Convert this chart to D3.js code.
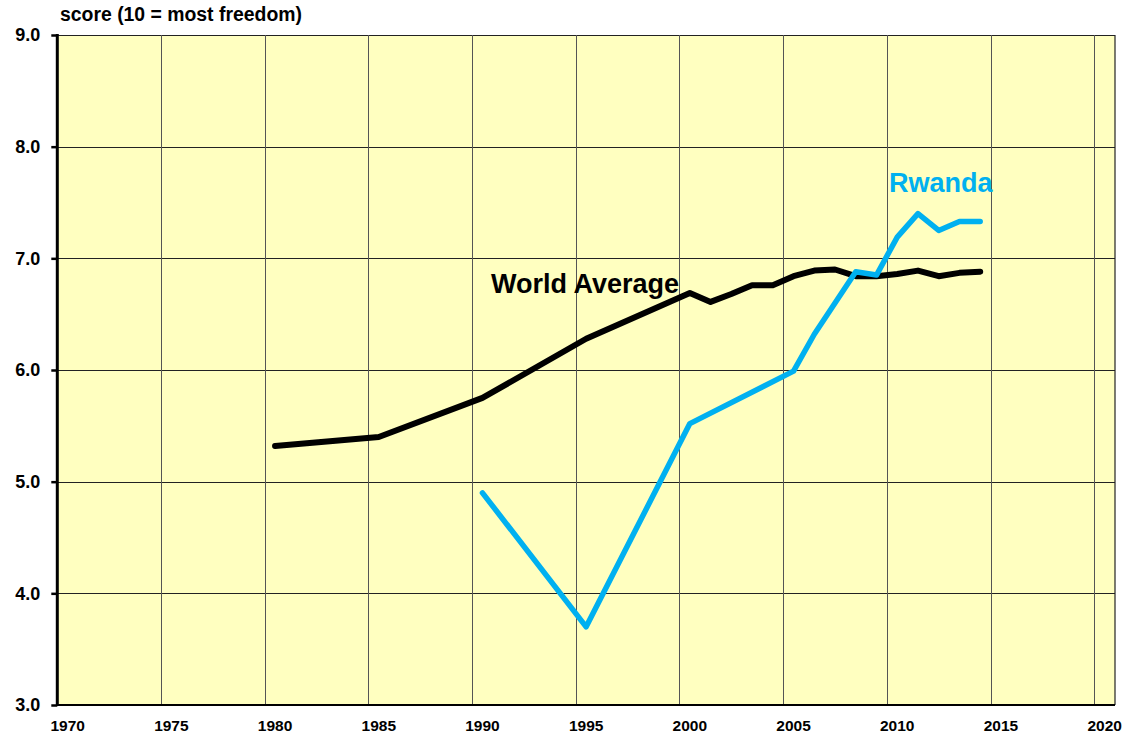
<!DOCTYPE html>
<html>
<head>
<meta charset="utf-8">
<script src="https://cdn.jsdelivr.net/npm/d3@7"></script>
<style>
  html, body { margin: 0; padding: 0; background: #ffffff; }
  svg { display: block; font-family: Arial, "Liberation Sans", sans-serif; }
</style>
</head>
<body>
<svg id="chart" width="1130" height="733"></svg>
<script>
// ---- data ----
const categoryYears = d3.range(1970, 2021);          // category axis 1970..2020
const xTickYears = [1970, 1975, 1980, 1985, 1990, 1995, 2000, 2005, 2010, 2015, 2020];
const yTicks = [3, 4, 5, 6, 7, 8, 9];

const worldYears  = [1980, 1985, 1990, 1995, 2000, 2001, 2002, 2003, 2004, 2005, 2006, 2007, 2008, 2009, 2010, 2011, 2012, 2013, 2014];
const worldValues = [5.32, 5.40, 5.75, 6.28, 6.69, 6.61, 6.68, 6.76, 6.76, 6.84, 6.89, 6.90, 6.84, 6.84, 6.86, 6.89, 6.84, 6.87, 6.88];

const rwandaYears  = [1990, 1995, 2000, 2005, 2006, 2007, 2008, 2009, 2010, 2011, 2012, 2013, 2014];
const rwandaValues = [4.90, 3.70, 5.52, 5.99, 6.32, 6.60, 6.88, 6.85, 7.19, 7.40, 7.25, 7.33, 7.33];

const titleText = "score (10 = most freedom)";
const worldLabel = "World Average";
const rwandaLabel = "Rwanda";

// ---- layout ----
const svg = d3.select("#chart");
const plot = { left: 57.3, right: 1115, top: 35, bottom: 705 };

const x = d3.scaleBand().domain(categoryYears).range([plot.left, plot.right]).padding(0);
const y = d3.scaleLinear().domain([3, 9]).range([plot.bottom, plot.top]);
const xc = yr => x(yr) + x.bandwidth() / 2;

// background
svg.append("rect")
  .attr("x", plot.left).attr("y", plot.top)
  .attr("width", plot.right - plot.left).attr("height", plot.bottom - plot.top)
  .attr("fill", "#FFFFC0");

// grid
const grid = svg.append("g").attr("stroke", "#222").attr("stroke-width", 1).attr("shape-rendering", "crispEdges");
grid.selectAll("line.h").data(yTicks.filter(v => v > 3)).join("line")
  .attr("x1", plot.left).attr("x2", plot.right)
  .attr("y1", d => Math.round(y(d)) + 0.5).attr("y2", d => Math.round(y(d)) + 0.5);
grid.selectAll("line.v").data(xTickYears.filter(v => v > 1970)).join("line")
  .attr("x1", d => Math.round(x(d)) + 0.5).attr("x2", d => Math.round(x(d)) + 0.5)
  .attr("y1", plot.top).attr("y2", plot.bottom)
  .attr("stroke", "#555");
// right border
svg.append("line").attr("x1", plot.right).attr("x2", plot.right)
  .attr("y1", plot.top).attr("y2", plot.bottom)
  .attr("stroke", "#222").attr("stroke-width", 1.2);

// lines
const line = d3.line().x(d => xc(d[0])).y(d => y(d[1]));
svg.append("path")
  .datum(d3.zip(worldYears, worldValues))
  .attr("d", line)
  .attr("fill", "none").attr("stroke", "#000").attr("stroke-width", 6)
  .attr("stroke-linejoin", "round").attr("stroke-linecap", "round");
svg.append("path")
  .datum(d3.zip(rwandaYears, rwandaValues))
  .attr("d", line)
  .attr("fill", "none").attr("stroke", "#00B0F0").attr("stroke-width", 5.5)
  .attr("stroke-linejoin", "round").attr("stroke-linecap", "round");

// y axis
const yAxis = svg.append("g")
  .attr("transform", `translate(${plot.left},0)`)
  .call(d3.axisLeft(y).tickValues(yTicks).tickFormat(d3.format(".1f")).tickSize(6).tickPadding(11));
yAxis.select(".domain").remove();
yAxis.selectAll(".tick line").attr("stroke", "#000").attr("stroke-width", 2.5);
yAxis.selectAll(".tick text")
  .attr("fill", "#000").attr("font-size", 18).attr("font-weight", "bold")
  .attr("font-family", "Arial, 'Liberation Sans', sans-serif");
svg.append("line").attr("x1", plot.left).attr("x2", plot.left)
  .attr("y1", plot.top - 1).attr("y2", plot.bottom + 1)
  .attr("stroke", "#000").attr("stroke-width", 3);

// x axis
const xAxis = svg.append("g")
  .attr("transform", `translate(0,${plot.bottom})`)
  .call(d3.axisBottom(x).tickValues(xTickYears).tickSize(0).tickPadding(15));
xAxis.select(".domain").remove();
xAxis.selectAll(".tick text")
  .attr("fill", "#000").attr("font-size", 15.5).attr("font-weight", "bold")
  .attr("font-family", "Arial, 'Liberation Sans', sans-serif");
svg.append("line").attr("x1", plot.left).attr("x2", plot.right)
  .attr("y1", plot.bottom).attr("y2", plot.bottom)
  .attr("stroke", "#000").attr("stroke-width", 2);

// title
svg.append("text")
  .attr("x", 60).attr("y", 21)
  .attr("font-size", 19.4).attr("font-weight", "bold").attr("fill", "#000")
  .text(titleText);

// series labels
svg.append("text")
  .attr("x", 491).attr("y", 293)
  .attr("font-size", 27).attr("font-weight", "bold").attr("fill", "#000")
  .text(worldLabel);
svg.append("text")
  .attr("x", 889).attr("y", 192)
  .attr("font-size", 27).attr("font-weight", "bold").attr("fill", "#00B0F0")
  .text(rwandaLabel);
</script>
</body>
</html>
